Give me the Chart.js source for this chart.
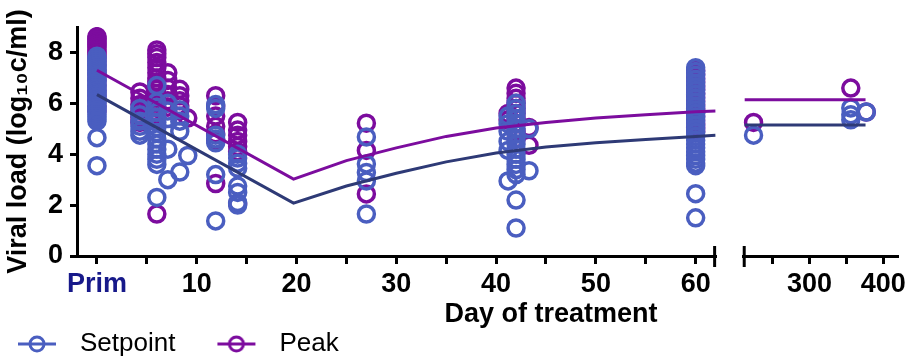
<!DOCTYPE html>
<html>
<head>
<meta charset="utf-8">
<script src="https://cdn.jsdelivr.net/npm/chart.js@4.4.1/dist/chart.umd.min.js"></script>
<style>
  html, body { margin: 0; padding: 0; background: #fff; }
</style>
</head>
<body>
<canvas id="viral-chart" width="918" height="361"></canvas>
<script>
// sampling days on the first 62 days, and the values measured on each day
const earlyDays = [0, 4.3, 6, 7.1, 8.3, 9.1, 11.9, 14.1, 27, 41.2, 42, 43.3, 60];
const setpointLoads = [
  [7.85, 7.78, 7.7, 7.62, 7.55, 7.47, 7.4, 7.32, 7.25, 7.17, 7.1, 7.0, 6.92, 6.85, 6.75, 6.68, 6.6, 6.5, 6.42, 6.35, 6.25, 6.15, 6.08, 6.0, 5.9, 5.82, 5.75, 5.65, 5.55, 5.47, 5.38, 5.3, 4.65, 3.55],
  [5.8, 5.55, 5.3, 5.1, 4.9, 4.75],
  [6.7, 6.05, 5.85, 5.65, 5.45, 5.25, 5.05, 4.85, 4.6, 4.4, 4.2, 4.0, 3.8, 3.6, 2.3],
  [6.0, 5.7, 5.4, 4.2, 3.0],
  [5.75, 5.5, 5.3, 4.9, 3.3],
  [3.95],
  [5.95, 5.8, 4.75, 4.6, 4.45, 3.2, 1.38],
  [4.0, 3.85, 3.65, 3.45, 2.75, 2.5, 2.1, 2.0],
  [4.68, 3.62, 3.28, 2.95, 1.65],
  [5.5, 5.2, 4.9, 4.5, 4.15, 2.95],
  [6.0, 5.8, 5.6, 5.4, 5.2, 5.0, 4.8, 4.6, 4.4, 4.2, 4.0, 3.8, 3.6, 3.4, 3.2, 2.2, 1.1],
  [5.0, 3.35],
  [7.4, 7.25, 7.1, 6.95, 6.8, 6.65, 6.5, 6.35, 6.2, 6.05, 5.9, 5.75, 5.6, 5.45, 5.3, 5.15, 5.0, 4.85, 4.7, 4.55, 4.4, 4.25, 4.1, 3.95, 3.8, 3.65, 3.55, 2.45, 1.5]
];
const peakLoads = [
  [8.62, 8.55, 8.5, 8.42, 8.35, 8.28, 8.2, 8.12, 8.05, 7.98, 7.9, 7.8, 7.65, 7.5, 7.3, 7.1, 6.9, 6.7, 6.5, 6.3, 6.1, 5.9, 5.7],
  [6.45, 6.2, 5.95, 5.7, 5.45, 5.25],
  [8.1, 7.95, 7.8, 7.6, 7.4, 7.2, 7.0, 6.85, 6.7, 6.55, 6.4, 6.2, 6.0, 5.8, 5.6, 5.4, 1.65],
  [7.2, 6.9, 6.6, 6.35, 6.1, 5.85],
  [6.55, 6.3, 6.1, 5.9, 5.7],
  [5.42],
  [6.3, 5.9, 5.5, 5.1, 4.8, 4.55, 2.85],
  [5.25, 4.95, 4.75, 4.5, 4.3, 4.1, 2.05],
  [5.22, 4.15, 2.44],
  [5.6, 5.35],
  [6.6, 6.4, 6.2, 6.0, 5.8, 5.6, 5.4, 5.2, 4.9, 4.6],
  [5.05, 4.35],
  [7.3, 7.15, 7.0, 6.85, 6.7, 6.55, 6.4, 6.25, 6.1, 5.95, 5.8, 5.65, 5.5, 5.35, 5.2, 5.05, 4.9]
];

// late follow-up (right part of the broken axis)
const lateDays = [224, 356, 377];
const lateSetpointLoads = [[4.75], [5.82, 5.55, 5.35], [5.66]];
const latePeakLoads = [[5.25], [6.6], [5.66]];

// fitted curves
const fitDays = [0, 19.7, 25, 30, 35, 40, 45, 50, 55, 60, 62];
const setpointFit = [6.34, 2.08, 2.75, 3.25, 3.7, 4.05, 4.28, 4.45, 4.58, 4.7, 4.75];
const peakFit = [7.3, 3.02, 3.75, 4.25, 4.7, 5.03, 5.25, 5.42, 5.55, 5.67, 5.7];
const lateFitDays = [212, 376];
const lateSetpointFit = [5.15, 5.15];
const latePeakFit = [6.14, 6.14];

// axis ticks
const leftTickValues = [0, 10, 20, 30, 40, 50, 60];
const leftTickLabels = ['Prim', '10', '20', '30', '40', '50', '60'];
const rightTickValues = [300, 400];
const rightTickLabels = ['300', '400'];
const yTickValues = [0, 2, 4, 6, 8];

const FONT = '"Liberation Sans", Arial, sans-serif';
const setpointColor = '#4a5ec0';
const setpointLine = '#2e3a76';
const peakColor = '#7c0c9e';
const primColor = '#17198a';

function pointsFrom(days, loads) {
  const pts = [];
  days.forEach((d, i) => loads[i].forEach(v => pts.push({x: d, y: v})));
  return pts;
}
function lineFrom(days, vals) {
  return days.map((d, i) => ({x: d, y: vals[i]}));
}

function legendMarker(color) {
  const c = document.createElement('canvas');
  c.width = 85; c.height = 22;
  const g = c.getContext('2d');
  g.strokeStyle = color;
  g.lineWidth = 3;
  g.beginPath(); g.moveTo(36, 11); g.lineTo(74, 11); g.stroke();
  g.beginPath(); g.arc(55, 11, 7, 0, Math.PI * 2); g.stroke();
  return c;
}

const scatterStyle = {
  type: 'scatter',
  pointStyle: 'circle',
  pointRadius: 8,
  pointBorderWidth: 3.5,
  borderWidth: 3.5,
  pointBackgroundColor: 'rgba(0,0,0,0)',
  backgroundColor: 'rgba(0,0,0,0)',
  showLine: false
};
const lineStyle = {
  type: 'line',
  borderWidth: 3,
  pointRadius: 0,
  tension: 0,
  fill: false,
  order: 0
};

const axisBreak = {
  id: 'axisBreak',
  afterDraw(chart) {
    const {ctx} = chart;
    const x = chart.scales.x, x2 = chart.scales.x2;
    ctx.save();
    ctx.strokeStyle = '#000';
    ctx.lineWidth = 3;
    [x.right - 1, x2.left + 1].forEach(px => {
      ctx.beginPath();
      ctx.moveTo(px, x.top - 10);
      ctx.lineTo(px, x.top + 11);
      ctx.stroke();
    });
    // x axis title, centred under the day 45 mark like the original
    ctx.fillStyle = '#000';
    ctx.font = 'bold 27px ' + FONT;
    ctx.textAlign = 'center';
    ctx.textBaseline = 'alphabetic';
    ctx.fillText('Day of treatment', x.getPixelForValue(45.5), x.top + 66);
    ctx.restore();
  }
};

const tickFont = {family: FONT, size: 27, weight: 'bold'};

new Chart(document.getElementById('viral-chart'), {
  data: {
    datasets: [
      Object.assign({}, lineStyle, {label: 'Setpoint fit', xAxisID: 'x', borderColor: setpointLine, data: lineFrom(fitDays, setpointFit)}),
      Object.assign({}, lineStyle, {label: 'Peak fit', xAxisID: 'x', borderColor: peakColor, data: lineFrom(fitDays, peakFit)}),
      Object.assign({}, lineStyle, {label: 'Setpoint late fit', xAxisID: 'x2', borderColor: setpointLine, data: lineFrom(lateFitDays, lateSetpointFit)}),
      Object.assign({}, lineStyle, {label: 'Peak late fit', xAxisID: 'x2', borderColor: peakColor, data: lineFrom(lateFitDays, latePeakFit)}),
      Object.assign({}, scatterStyle, {label: 'Setpoint', xAxisID: 'x', order: 1, borderColor: setpointColor, pointBorderColor: setpointColor, data: pointsFrom(earlyDays, setpointLoads)}),
      Object.assign({}, scatterStyle, {label: 'Setpoint late', xAxisID: 'x2', order: 1, borderColor: setpointColor, pointBorderColor: setpointColor, data: pointsFrom(lateDays, lateSetpointLoads)}),
      Object.assign({}, scatterStyle, {label: 'Peak', xAxisID: 'x', order: 2, borderColor: peakColor, pointBorderColor: peakColor, data: pointsFrom(earlyDays, peakLoads)}),
      Object.assign({}, scatterStyle, {label: 'Peak late', xAxisID: 'x2', order: 2, borderColor: peakColor, pointBorderColor: peakColor, data: pointsFrom(lateDays, latePeakLoads)})
    ]
  },
  options: {
    responsive: false,
    animation: false,
    devicePixelRatio: 1,
    events: [],
    layout: { padding: {left: -24, right: 8, top: 27, bottom: 0} },
    plugins: {
      tooltip: { enabled: false },
      legend: {
        position: 'bottom',
        align: 'start',
        maxHeight: 36,
        labels: {
          usePointStyle: true,
          pointStyleWidth: 85,
          padding: 6,
          color: '#000',
          font: {family: FONT, size: 26},
          generateLabels: () => [
            {text: 'Setpoint', pointStyle: legendMarker(setpointColor), fontColor: '#000', strokeStyle: setpointColor, lineWidth: 3, hidden: false, datasetIndex: 4},
            {text: 'Peak', pointStyle: legendMarker(peakColor), fontColor: '#000', strokeStyle: peakColor, lineWidth: 3, hidden: false, datasetIndex: 6}
          ]
        }
      }
    },
    scales: {
      x: {
        type: 'linear',
        position: 'bottom',
        stack: 'days',
        stackWeight: 648,
        min: -2,
        max: 62,
        border: {color: '#000', width: 3},
        grid: {drawOnChartArea: false, color: '#000', lineWidth: 3, tickLength: 8},
        ticks: {
          stepSize: 5,
          includeBounds: false,
          autoSkip: false,
          maxRotation: 0,
          padding: 4,
          font: tickFont,
          color: c => (c.tick && c.tick.value === 0 ? primColor : '#000'),
          callback: v => {
            const i = leftTickValues.indexOf(v);
            return i >= 0 ? leftTickLabels[i] : '';
          }
        },
        afterFit: s => { s.height = 69; }
      },
      xgap: {
        type: 'linear',
        position: 'bottom',
        stack: 'days',
        stackWeight: 28,
        border: {display: false},
        grid: {display: false},
        ticks: {display: false}
      },
      x2: {
        type: 'linear',
        position: 'bottom',
        stack: 'days',
        stackWeight: 157,
        min: 210,
        max: 420,
        border: {color: '#000', width: 3},
        grid: {drawOnChartArea: false, color: '#000', lineWidth: 3, tickLength: 8},
        ticks: {
          stepSize: 50,
          includeBounds: false,
          autoSkip: false,
          maxRotation: 0,
          padding: 4,
          font: tickFont,
          color: '#000',
          callback: v => {
            const i = rightTickValues.indexOf(v);
            return i >= 0 ? rightTickLabels[i] : '';
          }
        }
      },
      y: {
        position: 'left',
        min: 0,
        max: 9,
        border: {color: '#000', width: 3},
        grid: {drawOnChartArea: false, color: '#000', lineWidth: 3, tickLength: 7},
        ticks: {
          stepSize: 1,
          padding: 7,
          font: tickFont,
          color: '#000',
          callback: v => (yTickValues.includes(v) ? String(v) : '')
        },
        title: {
          display: true,
          text: 'Viral load (log\u2081\u2080c/ml)',
          color: '#000',
          font: {family: FONT, size: 27, weight: 'bold'},
          padding: {top: 26, bottom: 0}
        },
        afterFit: s => { s.width = 101; }
      }
    }
  },
  plugins: [axisBreak]
});
</script>
</body>
</html>
